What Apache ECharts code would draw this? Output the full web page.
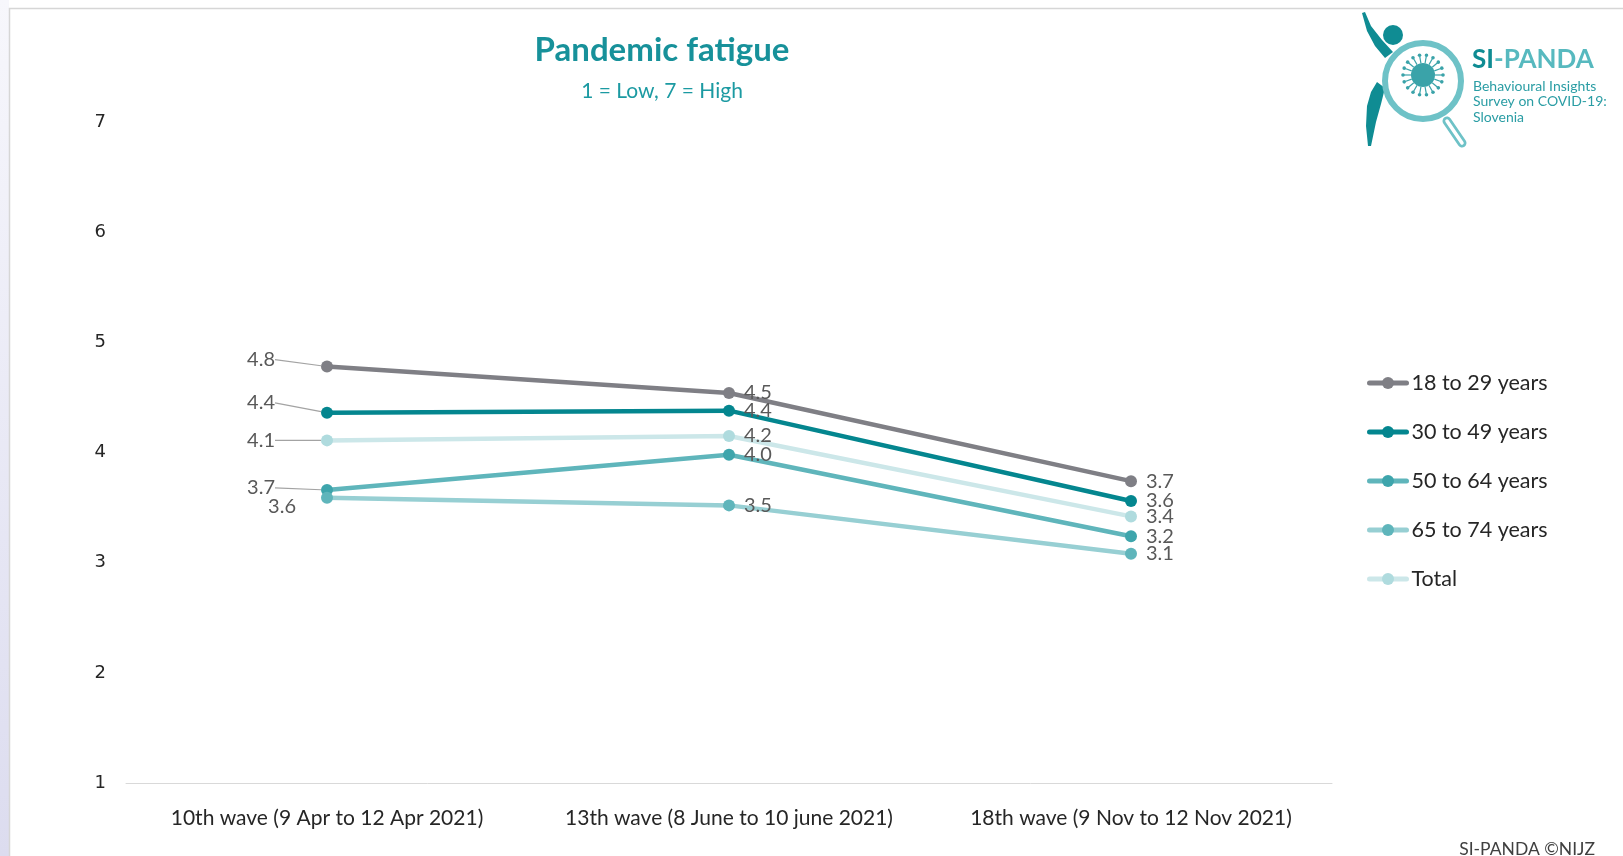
<!DOCTYPE html>
<html>
<head>
<meta charset="utf-8">
<title>Pandemic fatigue</title>
<script src="https://cdn.jsdelivr.net/npm/echarts@6/dist/echarts.min.js"></script>
<style>
  html, body { margin: 0; padding: 0; background: #ffffff; }
  #chart { width: 1623px; height: 856px; }
</style>
</head>
<body>
<div id="chart"></div>
<script>
// Survey waves (x axis)
const waves = [
  '10th wave (9 Apr to 12 Apr 2021)',
  '13th wave (8 June to 10 june 2021)',
  '18th wave (9 Nov to 12 Nov 2021)'
];

// Mean pandemic fatigue per age group (1 = Low, 7 = High)
const age18to29 = [4.78, 4.54, 3.74];
const age30to49 = [4.36, 4.38, 3.56];
const age50to64 = [3.66, 3.98, 3.24];
const age65to74 = [3.59, 3.52, 3.08];
const totalAll  = [4.11, 4.15, 3.42];

// Value axis range
const yMin = 1, yMax = 7, yStep = 1;

const FONT = 'Lato, "Open Sans", sans-serif';
const LABEL_GREY = '#595959';

// Series appearance; leftShift/leftDist place the first-wave label to the left of its point
const seriesDefs = [
  { name: '18 to 29 years', data: age18to29, line: '#7f7f85', dot: '#7f7f85', leftDist: 46, leftShift: -7, guide: true },
  { name: '30 to 49 years', data: age30to49, line: '#04868f', dot: '#04868f', leftDist: 46, leftShift: -10, guide: true },
  { name: '50 to 64 years', data: age50to64, line: '#5fb5bb', dot: '#3ea5ac', leftDist: 46, leftShift: -2, guide: true },
  { name: '65 to 74 years', data: age65to74, line: '#97cfd3', dot: '#5fb5bb', leftDist: 25, leftShift: 9, guide: false },
  { name: 'Total',          data: totalAll,  line: '#cce7e9', dot: '#afdbde', leftDist: 46, leftShift: 0, guide: true }
];

const series = seriesDefs.map(function (d) {
  return {
    name: d.name,
    type: 'line',
    data: d.data.map(function (v, i) {
      if (i !== 0) return v;
      return {
        value: v,
        label: { position: 'left', distance: d.leftDist },
        labelLine: { show: d.guide }
      };
    }),
    symbol: 'circle',
    symbolSize: 12,
    lineStyle: { color: d.line, width: 4.5 },
    itemStyle: { color: d.dot },
    color: d.line,
    label: {
      show: true,
      position: 'right',
      distance: 9,
      color: LABEL_GREY,
      fontFamily: FONT,
      fontSize: 20,
      formatter: function (p) { return p.value.toFixed(1); }
    },
    labelLine: {
      show: false,
      lineStyle: { color: '#a3a3a3', width: 1.2 }
    },
    labelLayout: function (p) {
      return p.dataIndex === 0 ? { dy: d.leftShift } : {};
    },
    emphasis: { disabled: true },
    animation: false
  };
});

// SI-PANDA logo pieces (decorative)
const logoTeal = '#0f8c93';
const logoLight = '#6ec2c7';
const virus = '#3aa3a9';
const logo = [];
// figure: arm, head, leg (drawn behind the lens)
logo.push({ type: 'polygon', shape: { points: [[1362, 13], [1365, 12], [1371, 26], [1382, 40], [1393, 52], [1385, 58], [1375, 46], [1367, 31]] }, style: { fill: logoTeal } });
logo.push({ type: 'circle', shape: { cx: 1393, cy: 35, r: 10 }, style: { fill: logoTeal } });
logo.push({ type: 'polygon', shape: { points: [[1377, 82], [1385, 88], [1381, 104], [1376, 122], [1371, 146], [1368, 146], [1366, 126], [1367, 106], [1371, 92]] }, style: { fill: logoTeal } });
// magnifier lens and handle
logo.push({ type: 'line', shape: { x1: 1447, y1: 121, x2: 1462, y2: 143 }, style: { stroke: logoLight, lineWidth: 9, lineCap: 'round' } });
logo.push({ type: 'line', shape: { x1: 1447, y1: 121, x2: 1462, y2: 143 }, style: { stroke: '#ffffff', lineWidth: 3.5, lineCap: 'round' } });
logo.push({ type: 'circle', shape: { cx: 1423, cy: 81, r: 38 }, style: { fill: '#ffffff', stroke: logoLight, lineWidth: 6 } });
// virus inside the lens
logo.push({ type: 'circle', shape: { cx: 1423, cy: 75, r: 12 }, style: { fill: virus } });
for (let k = 0; k < 18; k++) {
  const a = k * Math.PI * 2 / 18;
  const c = Math.cos(a), s = Math.sin(a);
  logo.push({ type: 'line', shape: { x1: 1423 + 12 * c, y1: 75 + 12 * s, x2: 1423 + 19 * c, y2: 75 + 19 * s }, style: { stroke: virus, lineWidth: 1.2 } });
  logo.push({ type: 'circle', shape: { cx: 1423 + 20 * c, cy: 75 + 20 * s, r: 1.8 }, style: { fill: virus } });
}
// logo text
logo.push({
  type: 'text', left: 1472, top: 47,
  style: {
    text: '{a|SI}{b|-PANDA}',
    rich: {
      a: { fontFamily: FONT, fontWeight: 'bold', fontSize: 26, fill: logoTeal },
      b: { fontFamily: FONT, fontWeight: 'bold', fontSize: 26, fill: '#57b9bf' }
    }
  }
});
['Behavioural Insights', 'Survey on COVID-19:', 'Slovenia'].forEach(function (t, i) {
  logo.push({ type: 'text', left: 1473, top: 79 + i * 15.5, style: { text: t, fontFamily: FONT, fontSize: 14, fill: '#2a9da4' } });
});

const chart = echarts.init(document.getElementById('chart'), null, { renderer: 'canvas' });
chart.setOption({
  backgroundColor: '#ffffff',
  animation: false,
  title: [
    {
      text: 'Pandemic fatigue',
      left: 657, top: 29, textAlign: 'center',
      textStyle: { fontFamily: FONT, fontWeight: 'bold', fontSize: 33, color: '#17919a' }
    },
    {
      text: '1 = Low, 7 = High',
      left: 657, top: 76, textAlign: 'center',
      textStyle: { fontFamily: FONT, fontWeight: 'normal', fontSize: 21, color: '#1b9aa2' }
    }
  ],
  legend: {
    orient: 'vertical',
    left: 1362, top: 367,
    itemWidth: 37, itemHeight: 15,
    itemGap: 27,
    lineStyle: { width: 5, cap: 'round' },
    textStyle: { fontFamily: FONT, fontSize: 21.5, color: '#262626' },
    data: seriesDefs.map(function (d) { return d.name; })
  },
  grid: { left: 126, right: 291, top: 122, bottom: 73, containLabel: false },
  xAxis: {
    type: 'category',
    data: waves,
    boundaryGap: true,
    axisLine: { lineStyle: { color: '#d9d9d9', width: 1 } },
    axisTick: { show: false },
    axisLabel: { interval: 0, fontFamily: FONT, fontSize: 21, color: '#262626', margin: 25 }
  },
  yAxis: {
    type: 'value',
    min: yMin, max: yMax, interval: yStep,
    axisLine: { show: false },
    axisTick: { show: false },
    splitLine: { show: false },
    axisLabel: { fontFamily: '"DejaVu Sans", sans-serif', fontSize: 18, color: '#262626', margin: 20, padding: [8, 0, 0, 0] }
  },
  series: series,
  graphic: [
    // left panel strip and frame
    {
      type: 'rect', shape: { x: 0, y: 0, width: 9, height: 856 },
      style: { fill: new echarts.graphic.LinearGradient(0, 0, 0, 1, [{ offset: 0, color: '#f7f7fc' }, { offset: 1, color: '#dcdcef' }]) },
      z: -1
    },
    { type: 'rect', shape: { x: 9.5, y: 8.5, width: 1700, height: 1000 }, style: { fill: 'none', stroke: '#d6d6d6', lineWidth: 1.5 }, z: -1 },
    {
      type: 'text', right: 28, top: 840,
      style: { text: 'SI-PANDA ©NIJZ', fontFamily: FONT, fontSize: 17.5, fill: '#404040' }
    }
  ].concat(logo)
});
</script>
</body>
</html>
